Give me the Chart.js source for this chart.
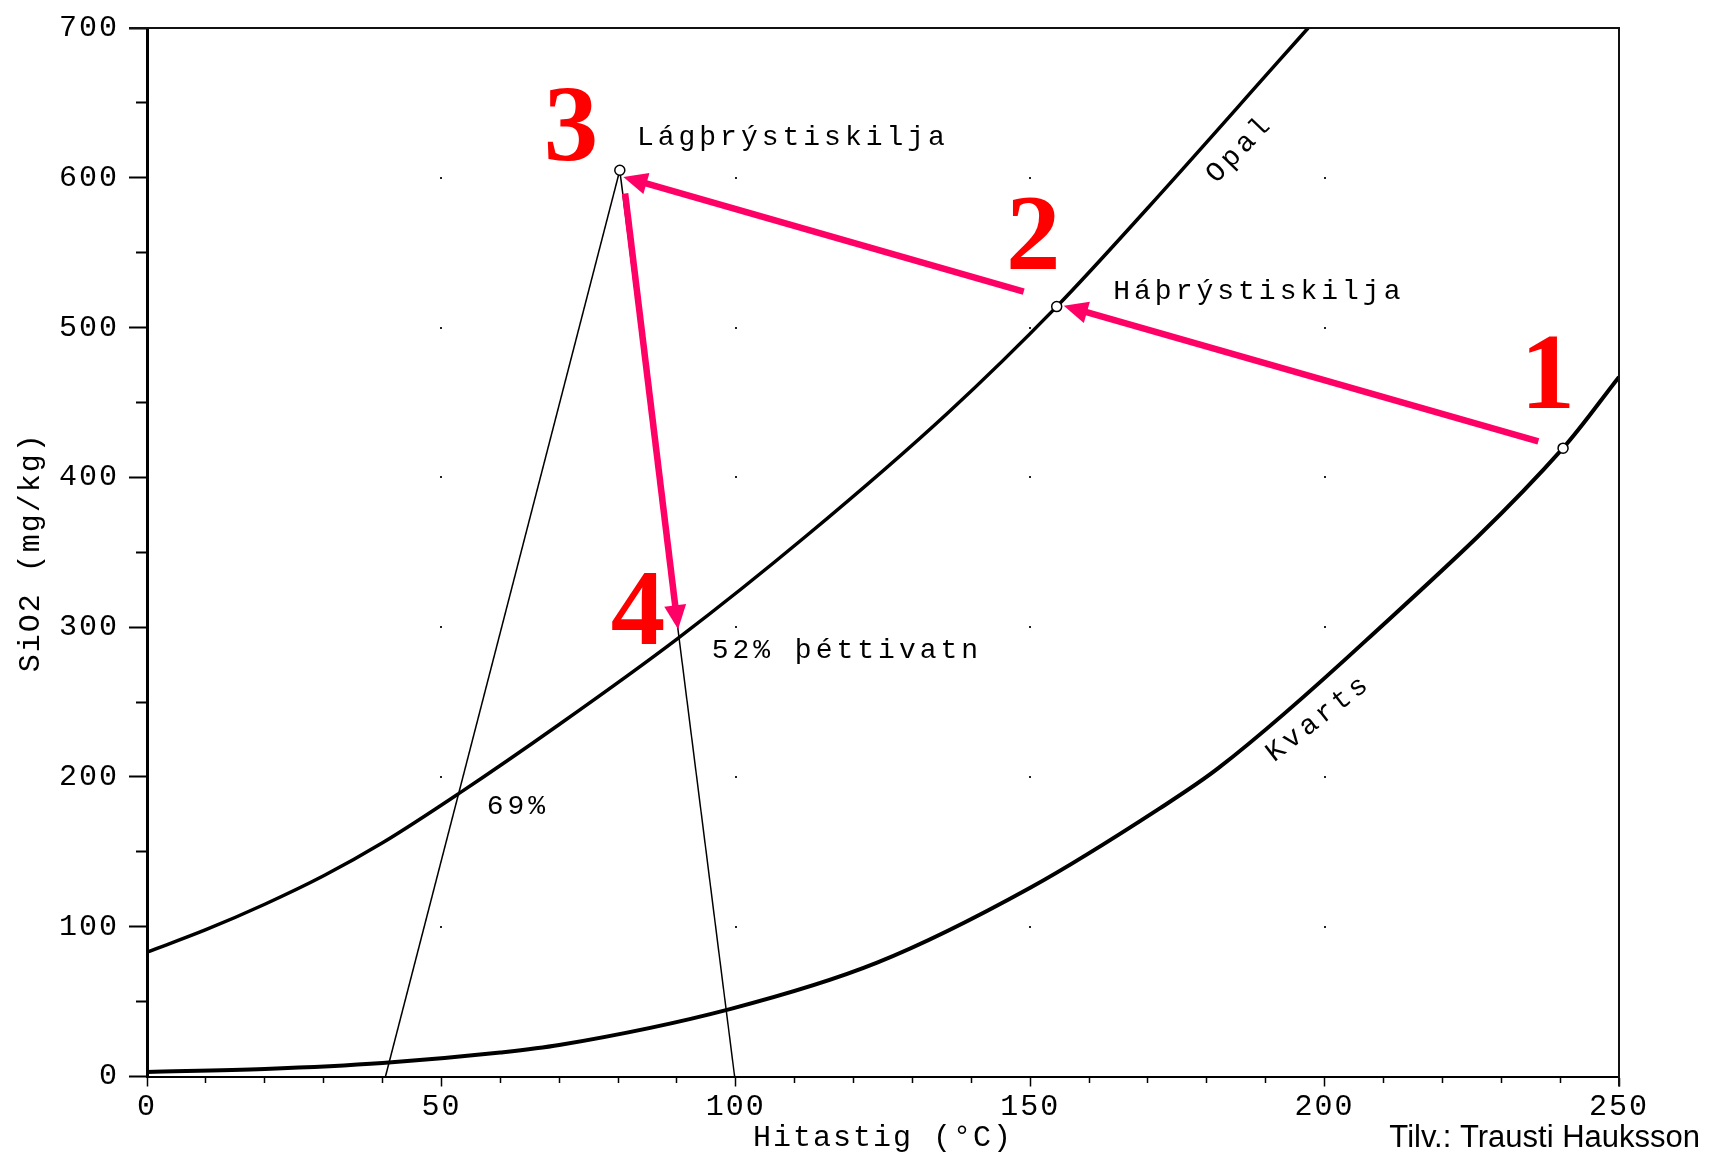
<!DOCTYPE html>
<html>
<head>
<meta charset="utf-8">
<title>SiO2 - Hitastig</title>
<script src="https://cdn.jsdelivr.net/npm/chart.js@4/dist/chart.umd.min.js"></script>
<style>
  html, body { margin: 0; padding: 0; background: #fff; }
  canvas { display: block; }
</style>
</head>
<body>
<canvas id="silica_chart" width="1725" height="1159"></canvas>
<script>
// solubility curves, temperature (C) vs SiO2 (mg/kg)
const opalT = [0, 10, 20, 30, 40, 53, 70, 90, 112, 136, 154.5, 170, 192, 197.2];
const opalSiO2 = [83, 98, 115, 134, 156, 189, 235, 292, 361, 443, 514, 580, 677, 700];
const kvartsT = [0, 20, 40, 60, 70, 99, 124, 150, 172, 182, 207, 240.5, 250];
const kvartsSiO2 = [3, 5, 9, 16, 21, 45, 76, 126, 179, 206, 291, 419.5, 467];

// boiling lines down from the low pressure separator
const line69T = [40.5, 80.3];
const line69SiO2 = [0, 605];
const line52T = [80.3, 99.8];
const line52SiO2 = [605, 0];

// separators (kvarts point, high pressure, low pressure)
const sepT = [240.5, 154.5, 80.3];
const sepSiO2 = [419.5, 514, 605];

// pink arrows 1 -> 2 -> 3 -> 4
const arrowFromT = [236.3, 148.9, 81.2];
const arrowFromSiO2 = [424, 524, 589.5];
const arrowToT = [155.7, 80.9, 90.2];
const arrowToSiO2 = [514.6, 600.6, 298.6];

// red step numbers
const stepText = ['1', '2', '3', '4'];
const stepT = [237.9, 150.5, 72.0, 83.4];
const stepSiO2 = [446.5, 539.3, 611.8, 288.8];

// text in the plot
const noteText = ['Lágþrýstiskilja', 'Háþrýstiskilja', '52% þéttivatn', '69%'];
const noteT = [83.2, 164.1, 95.9, 57.7];
const noteSiO2 = [622, 519.3, 279.7, 175.4];
const curveText = ['Opal', 'Kvarts'];
const curveT = [185.6, 199.0];
const curveSiO2 = [619.2, 239.2];
const curveAngle = [-46, -38];

// dotted grid marks
const dotT = [50, 100, 150, 200];
const dotSiO2 = [100, 200, 300, 400, 500, 600];

const PINK = '#ff0066';

function pts(xs, ys) {
  return xs.map((x, i) => ({x: x, y: ys[i]}));
}

const textSpacing = {
  id: 'textSpacing',
  beforeDraw(chart) {
    chart.ctx.letterSpacing = '2px';
  }
};

const gridDots = {
  id: 'gridDots',
  beforeDatasetsDraw(chart) {
    const ctx = chart.ctx, sx = chart.scales.x, sy = chart.scales.y;
    ctx.save();
    ctx.fillStyle = '#222';
    for (const t of dotT) {
      for (const s of dotSiO2) {
        ctx.fillRect(Math.round(sx.getPixelForValue(t)) - 1, Math.round(sy.getPixelForValue(s)) - 1, 2, 2);
      }
    }
    ctx.restore();
  }
};

const arrows = {
  id: 'arrows',
  afterDatasetsDraw(chart) {
    const ctx = chart.ctx, sx = chart.scales.x, sy = chart.scales.y;
    ctx.save();
    ctx.strokeStyle = PINK;
    ctx.fillStyle = PINK;
    ctx.lineWidth = 6.5;
    for (let i = 0; i < arrowFromT.length; i++) {
      const x0 = sx.getPixelForValue(arrowFromT[i]), y0 = sy.getPixelForValue(arrowFromSiO2[i]);
      const x1 = sx.getPixelForValue(arrowToT[i]), y1 = sy.getPixelForValue(arrowToSiO2[i]);
      const a = Math.atan2(y1 - y0, x1 - x0);
      const headLen = 24, headW = 11;
      const bx = x1 - headLen * Math.cos(a), by = y1 - headLen * Math.sin(a);
      ctx.beginPath();
      ctx.moveTo(x0, y0);
      ctx.lineTo(bx + 4 * Math.cos(a), by + 4 * Math.sin(a));
      ctx.stroke();
      ctx.beginPath();
      ctx.moveTo(x1, y1);
      ctx.lineTo(bx - headW * Math.sin(a), by + headW * Math.cos(a));
      ctx.lineTo(bx + headW * Math.sin(a), by - headW * Math.cos(a));
      ctx.closePath();
      ctx.fill();
    }
    ctx.restore();
  }
};

const annotations = {
  id: 'annotations',
  afterDraw(chart) {
    const ctx = chart.ctx, sx = chart.scales.x, sy = chart.scales.y;
    const area = chart.chartArea;
    ctx.save();

    // top and right frame
    ctx.strokeStyle = '#111';
    ctx.lineWidth = 2;
    ctx.beginPath();
    ctx.moveTo(area.left - 18, area.top);
    ctx.lineTo(area.right, area.top);
    ctx.lineTo(area.right, area.bottom + 10);
    ctx.stroke();

    // plot notes
    ctx.fillStyle = '#000';
    ctx.font = '28px "Liberation Mono"';
    ctx.letterSpacing = '4px';
    ctx.textAlign = 'left';
    ctx.textBaseline = 'alphabetic';
    noteText.forEach((t, i) => {
      ctx.fillText(t, sx.getPixelForValue(noteT[i]), sy.getPixelForValue(noteSiO2[i]));
    });
    ctx.textAlign = 'center';
    ctx.textBaseline = 'middle';
    curveText.forEach((t, i) => {
      ctx.save();
      ctx.translate(sx.getPixelForValue(curveT[i]), sy.getPixelForValue(curveSiO2[i]));
      ctx.rotate(curveAngle[i] * Math.PI / 180);
      ctx.fillText(t, 0, 0);
      ctx.restore();
    });

    // step numbers
    ctx.letterSpacing = '0px';
    ctx.fillStyle = '#ff0000';
    ctx.font = 'bold 109px "Liberation Serif"';
    ctx.textAlign = 'center';
    ctx.textBaseline = 'alphabetic';
    stepText.forEach((t, i) => {
      ctx.fillText(t, sx.getPixelForValue(stepT[i]), sy.getPixelForValue(stepSiO2[i]));
    });

    // source
    ctx.fillStyle = '#000';
    ctx.font = '31px "Liberation Sans"';
    ctx.textAlign = 'right';
    ctx.fillText('Tilv.: Trausti Hauksson', 1700, 1147);
    ctx.restore();
  }
};

const config = {
  type: 'scatter',
  data: {
    datasets: [
      {
        label: 'Skiljur',
        data: pts(sepT, sepSiO2),
        pointRadius: 5,
        pointBorderWidth: 1.5,
        pointBackgroundColor: '#fff',
        pointBorderColor: '#000',
        showLine: false
      },
      {
        label: 'Opal',
        data: pts(opalT, opalSiO2),
        showLine: true,
        borderColor: '#000',
        borderWidth: 3.5,
        pointRadius: 0,
        cubicInterpolationMode: 'monotone'
      },
      {
        label: 'Kvarts',
        data: pts(kvartsT, kvartsSiO2),
        showLine: true,
        borderColor: '#000',
        borderWidth: 4,
        pointRadius: 0,
        cubicInterpolationMode: 'monotone'
      },
      {
        label: '69%',
        data: pts(line69T, line69SiO2),
        showLine: true,
        borderColor: '#000',
        borderWidth: 1.5,
        pointRadius: 0
      },
      {
        label: '52%',
        data: pts(line52T, line52SiO2),
        showLine: true,
        borderColor: '#000',
        borderWidth: 1.5,
        pointRadius: 0
      }
    ]
  },
  options: {
    responsive: false,
    animation: false,
    devicePixelRatio: 1,
    layout: { padding: { left: 0, top: 26, right: 106, bottom: 0 } },
    plugins: {
      legend: { display: false },
      tooltip: { enabled: false }
    },
    scales: {
      x: {
        type: 'linear',
        min: 0,
        max: 250,
        afterFit(scale) { scale.height = 82.5; },
        border: { display: true, color: '#000', width: 2 },
        grid: {
          drawOnChartArea: false,
          tickLength: 10,
          tickWidth: 1.5,
          tickColor: '#000',
          tickBorderDash: (c) => (c.tick && c.tick.value % 50 !== 0) ? [5, 40] : []
        },
        ticks: {
          stepSize: 10,
          autoSkip: false,
          maxRotation: 0,
          padding: 3,
          color: '#000',
          font: { family: '"Liberation Mono"', size: 30 },
          callback: (v) => v % 50 === 0 ? String(v) : ''
        },
        title: {
          display: true,
          text: 'Hitastig (°C)',
          color: '#000',
          font: { family: '"Liberation Mono"', size: 30 },
          padding: { top: 0, bottom: 3 }
        }
      },
      y: {
        type: 'linear',
        min: 0,
        max: 700,
        afterFit(scale) { scale.width = 147; },
        border: { display: true, color: '#000', width: 3 },
        grid: {
          drawOnChartArea: false,
          tickLength: 18,
          tickWidth: 2,
          tickColor: '#000',
          tickBorderDash: (c) => (c.tick && c.tick.value % 100 !== 0) ? [0, 7, 11, 40] : []
        },
        ticks: {
          stepSize: 50,
          autoSkip: false,
          padding: 10,
          color: '#000',
          font: { family: '"Liberation Mono"', size: 30 },
          callback: (v) => v % 100 === 0 ? String(v) : ''
        },
        title: {
          display: true,
          text: 'SiO2 (mg/kg)',
          color: '#000',
          font: { family: '"Liberation Mono"', size: 30 },
          padding: { top: 13, bottom: 0 }
        }
      }
    }
  },
  plugins: [textSpacing, gridDots, arrows, annotations]
};

const silica_chart = new Chart(document.getElementById('silica_chart'), config);
</script>
</body>
</html>
